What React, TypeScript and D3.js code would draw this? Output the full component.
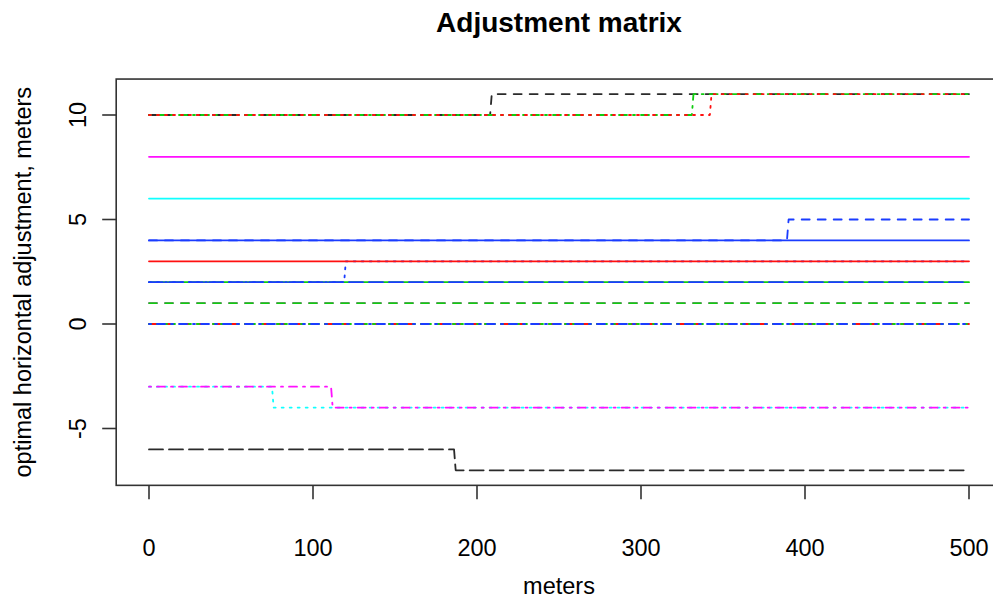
import React from "react";
import * as d3 from "d3";

// ---- data ----
const xTicks = [0, 100, 200, 300, 400, 500];
const yTicks = [-5, 0, 5, 10];
const xStart = 0;
const xEnd = 500;

const seriesColor = [
  "red", "green3", "blue", "magenta", "green3", "green3", "blue", "blue", "red",
  "blue", "blue", "cyan", "magenta", "black", "green3", "red", "cyan", "magenta", "black",
];
const seriesLty = [
  "dashed", "dotted", "dotdash", "dashed", "dashed", "solid", "longdash", "dotted", "solid",
  "solid", "dashed", "solid", "solid", "dashed", "dotdash", "dotted", "dotted", "dotdash", "longdash",
];
const startValue = [0, 0, 0, 1, 1, 2, 2, 2, 3, 4, 4, 6, 8, 10, 10, 10, -3, -3, -6];
const endValue = [0, 0, 0, 1, 1, 2, 2, 3, 3, 4, 5, 6, 8, 11, 11, 11, -4, -4, -7];
// x position of the step (null = no step)
const stepAt: (number | null)[] = [
  null, null, null, null, null, null, null, 119, null, null, 389, null, null, 208, 331, 342, 75, 111, 186,
];

const palette: Record<string, string> = {
  black: "#2a2a2a",
  red: "#FF1010",
  green3: "#10CD10",
  blue: "#1a3cff",
  cyan: "#10FFFF",
  magenta: "#FF10FF",
};
const dashes: Record<string, string | undefined> = {
  solid: undefined,
  dashed: "8,8",
  dotted: "2,6",
  dotdash: "2,6,8,6",
  longdash: "14,6",
};

const W = 993;
const H = 599;
const FONT = "'Liberation Sans', Arial, Helvetica, sans-serif";

export default function App() {
  const x = d3.scaleLinear().domain([0, 500]).range([149, 969]);
  const y = d3.scaleLinear().domain([0, 10]).range([324, 115]);
  const yMin = -7 - 0.04 * 18;
  const yMax = 11 + 0.04 * 18;
  const xMin = 0 - 0.04 * 500;
  const xMax = 500 + 0.04 * 500;
  const left = x(xMin);
  const right = x(xMax);
  const top = y(yMax);
  const bottom = y(yMin);

  const line = d3
    .line<[number, number]>()
    .x((d) => x(d[0]))
    .y((d) => y(d[1]));

  const paths = startValue.map((s, i) => {
    const e = endValue[i];
    const st = stepAt[i];
    const pts: [number, number][] =
      st === null
        ? [
            [xStart, s],
            [xEnd, s],
          ]
        : [
            [xStart, s],
            [st, s],
            [st + 1, e],
            [xEnd, e],
          ];
    return (
      <path
        key={i}
        d={line(pts) || ""}
        fill="none"
        stroke={palette[seriesColor[i]]}
        strokeWidth={1.8}
        strokeDasharray={dashes[seriesLty[i]]}
        strokeLinecap="round"
        strokeLinejoin="round"
      />
    );
  });

  return (
    <svg
      width={W}
      height={H}
      style={{ position: "absolute", left: 0, top: 0, background: "#fff" }}
      fontFamily={FONT}
    >
      <rect x={0} y={0} width={W} height={H} fill="#fff" />
      <text x={(left + right) / 2} y={31.5} textAnchor="middle" fontSize={28} fontWeight="bold" fill="#000">
        Adjustment matrix
      </text>
      {paths}
      <rect x={left} y={top} width={right - left} height={bottom - top} fill="none" stroke="#333" strokeWidth={1.6} />
      {xTicks.map((t) => (
        <g key={"x" + t}>
          <line x1={x(t)} x2={x(t)} y1={bottom} y2={bottom + 14} stroke="#333" strokeWidth={1.6} />
          <text x={x(t)} y={556} textAnchor="middle" fontSize={23.5} fill="#000">
            {t}
          </text>
        </g>
      ))}
      {yTicks.map((t) => (
        <g key={"y" + t}>
          <line x1={left - 14} x2={left} y1={y(t)} y2={y(t)} stroke="#333" strokeWidth={1.6} />
          <text
            transform={`translate(86,${y(t)}) rotate(-90)`}
            textAnchor="middle"
            fontSize={23.5}
            fill="#000"
          >
            {t}
          </text>
        </g>
      ))}
      <text x={(left + right) / 2} y={594} textAnchor="middle" fontSize={23.5} fill="#000">
        meters
      </text>
      <text
        transform={`translate(31,${(top + bottom) / 2}) rotate(-90)`}
        textAnchor="middle"
        fontSize={23.5}
        fill="#000"
      >
        optimal horizontal adjustment, meters
      </text>
    </svg>
  );
}
